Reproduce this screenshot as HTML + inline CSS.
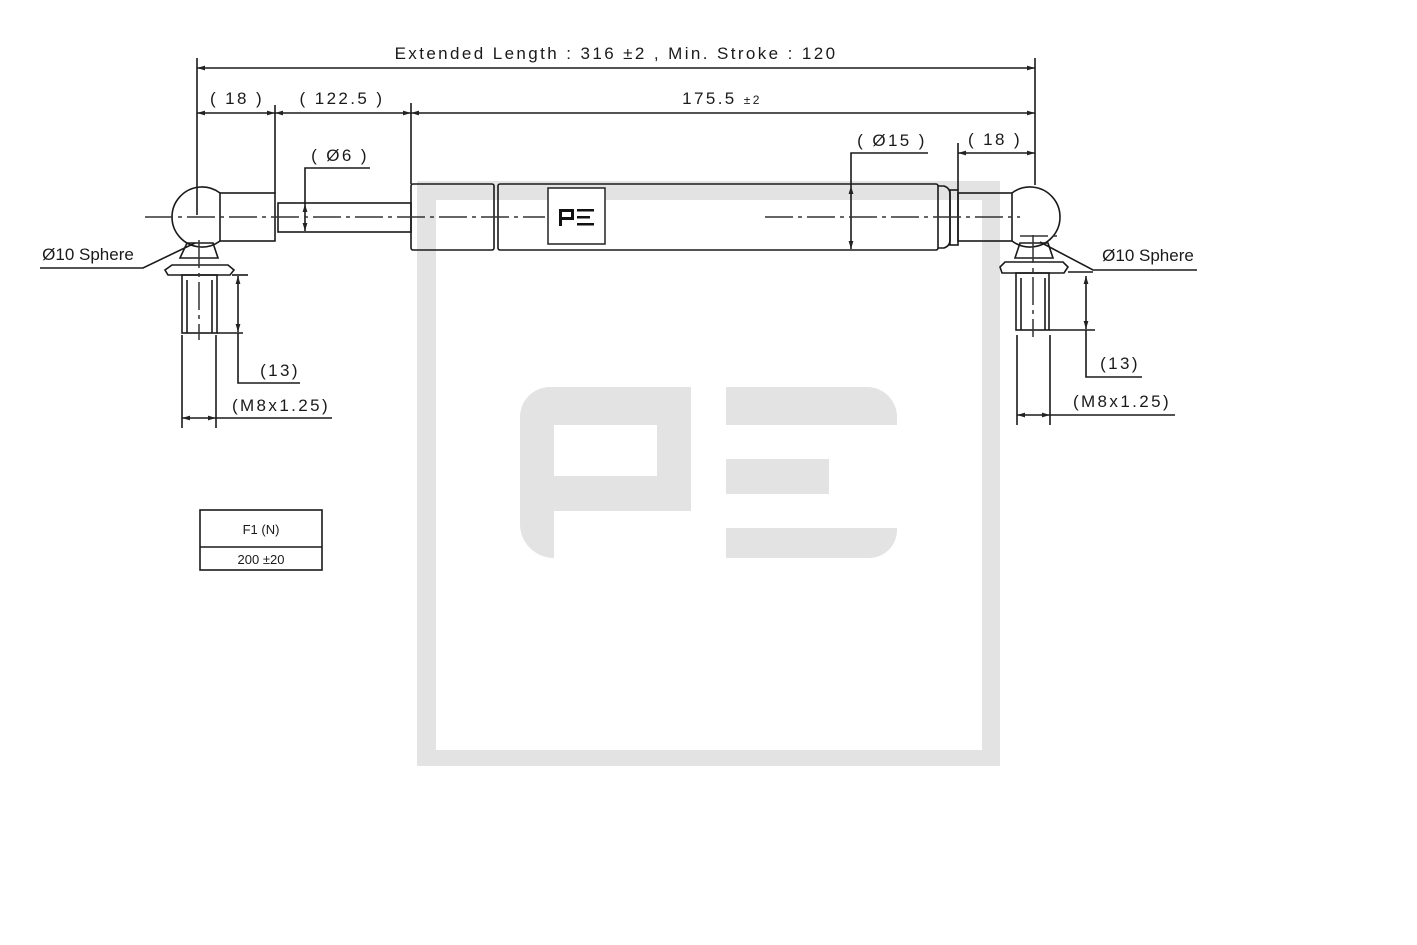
<!DOCTYPE html>
<html><head><meta charset="utf-8"><style>
html,body{margin:0;padding:0;background:#fff;}
svg{display:block;}
text{font-family:"Liberation Sans",sans-serif;fill:#1a1a1a;}
</style></head><body>
<svg width="1417" height="945" viewBox="0 0 1417 945" xmlns="http://www.w3.org/2000/svg">
<defs>
<marker id="a" viewBox="0 0 10 10" refX="10" refY="5" markerWidth="6" markerHeight="5" orient="auto-start-reverse"><path d="M0,2 L10,5 L0,8 z" fill="#222"/></marker>
</defs>
<g fill="#e3e3e3">
<path fill-rule="evenodd" d="M417,181 H1000 V766 H417 Z M436,200 V750 H982 V200 Z"/>
<path d="M550,387 H691 V511 H554 V558 A34,34 0 0 1 520,524 V417 A30,30 0 0 1 550,387 Z M554,425 V476 H657 V425 Z" fill-rule="evenodd"/>
<path d="M726,387 H867 A30,30 0 0 1 897,417 V425 H726 Z"/>
<rect x="726" y="459" width="103" height="35"/>
<path d="M726,528 H897 V530 A28,28 0 0 1 869,558 H726 Z"/>
</g>
<g stroke="#1a1a1a" fill="none" stroke-width="1.6">
<line x1="197" y1="68" x2="1035" y2="68" marker-start="url(#a)" marker-end="url(#a)"/>
<line x1="197" y1="58" x2="197" y2="215"/>
<line x1="1035" y1="58" x2="1035" y2="185"/>
<line x1="197" y1="113" x2="275" y2="113" marker-start="url(#a)" marker-end="url(#a)"/>
<line x1="275" y1="113" x2="411" y2="113" marker-start="url(#a)" marker-end="url(#a)"/>
<line x1="411" y1="113" x2="1035" y2="113" marker-start="url(#a)" marker-end="url(#a)"/>
<line x1="275" y1="105" x2="275" y2="193"/>
<line x1="411" y1="103" x2="411" y2="184"/>
<line x1="958" y1="153" x2="1035" y2="153" marker-start="url(#a)" marker-end="url(#a)"/>
<line x1="958" y1="143" x2="958" y2="190"/>
<line x1="851" y1="186" x2="851" y2="249" marker-start="url(#a)" marker-end="url(#a)"/>
<polyline points="851,186 851,153 928,153"/>
<line x1="305" y1="204" x2="305" y2="231" marker-start="url(#a)" marker-end="url(#a)"/>
<polyline points="305,204 305,168 370,168"/>
<path d="M220,193 A30,30 0 1 0 220,241"/>
<rect x="220" y="193" width="55" height="48"/>
<rect x="278" y="203" width="133" height="29"/>
<path d="M187,243 H213 L218,258 H180 Z"/>
<path d="M172,265 H228 L234,270 L230,275 H168 L165,270 Z"/>
<rect x="182" y="275" width="35" height="58"/>
<line x1="187" y1="280" x2="187" y2="333"/><line x1="212" y1="280" x2="212" y2="333"/>
<rect x="411" y="184" width="83" height="66" rx="2"/>
<rect x="498" y="184" width="440" height="66" rx="2"/>
<path d="M938,186 H944 Q950,188 950,194 V240 Q950,246 944,248 H938"/>
<rect x="950" y="190" width="8" height="55"/>
<rect x="958" y="193" width="54" height="48"/>
<path d="M1012,193 A30,30 0 1 1 1012,241"/>
<path d="M1020,243 H1048 L1053,258 H1015 Z"/>
<path d="M1005,262 H1063 L1068,267 L1064,273 H1002 L1000,267 Z"/>
<rect x="1016" y="273" width="33" height="57"/>
<line x1="1021" y1="278" x2="1021" y2="330"/><line x1="1045" y1="278" x2="1045" y2="330"/>
<line x1="238" y1="276" x2="238" y2="332" marker-start="url(#a)" marker-end="url(#a)"/>
<line x1="232" y1="275" x2="248" y2="275"/><line x1="217" y1="333" x2="243" y2="333"/>
<polyline points="238,333 238,383 300,383"/>
<line x1="182" y1="335" x2="182" y2="428"/><line x1="216" y1="335" x2="216" y2="428"/>
<line x1="182" y1="418" x2="216" y2="418" marker-start="url(#a)" marker-end="url(#a)"/>
<line x1="216" y1="418" x2="332" y2="418"/>
<line x1="1086" y1="276" x2="1086" y2="329" marker-start="url(#a)" marker-end="url(#a)"/>
<line x1="1049" y1="330" x2="1095" y2="330"/><line x1="1068" y1="272" x2="1093" y2="272"/>
<polyline points="1086,330 1086,377 1142,377"/>
<line x1="1017" y1="335" x2="1017" y2="425"/><line x1="1050" y1="335" x2="1050" y2="425"/>
<line x1="1017" y1="415" x2="1050" y2="415" marker-start="url(#a)" marker-end="url(#a)"/>
<line x1="1050" y1="415" x2="1175" y2="415"/>
<polyline points="40,268 143,268 195,243"/>
<polyline points="1197,270 1093,270 1040,242"/>
<rect x="200" y="510" width="122" height="60"/>
<line x1="200" y1="547" x2="322" y2="547"/>
</g>
<g stroke="#333" stroke-width="1.5" stroke-dasharray="28,5,4,5" fill="none">
<line x1="145" y1="217" x2="545" y2="217"/>
<line x1="765" y1="217" x2="1020" y2="217"/>
<line x1="199" y1="240" x2="199" y2="340"/>
<line x1="1033" y1="235" x2="1033" y2="337"/>
<line x1="1020" y1="236" x2="1060" y2="236"/>
</g>
<rect x="548" y="188" width="57" height="56" fill="#fff" stroke="#222" stroke-width="1.5"/>
<g fill="#111">
<path d="M559,209 H574 V220 H562 V226 H559 Z M562,212 V217 H571 V212 Z" fill-rule="evenodd"/>
<rect x="577" y="209" width="17" height="2.5"/><rect x="577" y="216" width="13" height="2.5"/><rect x="577" y="223" width="17" height="2.5"/>
</g>
<g font-size="17" letter-spacing="2.4">
<text x="616" y="59" text-anchor="middle">Extended Length : 316 ±2 ,  Min. Stroke : 120</text>
<text x="237" y="104" text-anchor="middle">( 18 )</text>
<text x="342" y="104" text-anchor="middle">( 122.5 )</text>
<text x="722" y="104" text-anchor="middle">175.5 <tspan font-size="12">±2</tspan></text>
<text x="340" y="161" text-anchor="middle">( Ø6 )</text>
<text x="892" y="146" text-anchor="middle">( Ø15 )</text>
<text x="995" y="145" text-anchor="middle">( 18 )</text>
<text x="280" y="376" text-anchor="middle">(13)</text>
<text x="281" y="411" text-anchor="middle">(M8x1.25)</text>
<text x="1120" y="369" text-anchor="middle">(13)</text>
<text x="1122" y="407" text-anchor="middle">(M8x1.25)</text>
</g>
<g font-size="17">
<text x="88" y="260" text-anchor="middle">Ø10 Sphere</text>
<text x="1148" y="261" text-anchor="middle">Ø10 Sphere</text>
</g>
<text x="261" y="534" text-anchor="middle" font-size="13">F1 (N)</text>
<text x="261" y="564" text-anchor="middle" font-size="13">200 ±20</text>
</svg>
</body></html>
